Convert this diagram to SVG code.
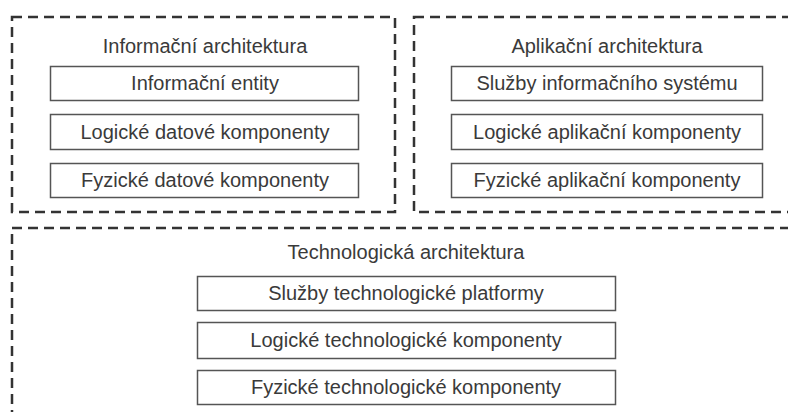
<svg xmlns="http://www.w3.org/2000/svg" width="788" height="412" viewBox="0 0 788 412">
<style>
.group{fill:none;stroke:#333;stroke-width:2.5;stroke-dasharray:10 6}
.box{fill:#fff;stroke:#555;stroke-width:1.5}
text{font-family:"Liberation Sans",Arial,sans-serif;font-size:20px;fill:#3a3a3a;text-anchor:middle}
</style>
<rect width="788" height="412" fill="#fff"/>
<g id="info">
<rect class="group" x="12" y="17" width="383" height="195"/>
<text x="205" y="53">Informační architektura</text>
<g id="info-1"><rect class="box" x="50.5" y="66.5" width="308" height="34"/><text x="205" y="90">Informační entity</text></g>
<g id="info-2"><rect class="box" x="50.5" y="114.5" width="308" height="35"/><text x="205" y="139">Logické datové komponenty</text></g>
<g id="info-3"><rect class="box" x="50.5" y="163.5" width="308" height="34"/><text x="205" y="187">Fyzické datové komponenty</text></g>
</g>
<g id="app">
<rect class="group" x="414" y="17" width="390" height="195"/>
<text x="607" y="53">Aplikační architektura</text>
<g id="app-1"><rect class="box" x="451.5" y="66.5" width="311" height="34"/><text x="607" y="90">Služby informačního systému</text></g>
<g id="app-2"><rect class="box" x="451.5" y="114.5" width="311" height="35"/><text x="607" y="139">Logické aplikační komponenty</text></g>
<g id="app-3"><rect class="box" x="451.5" y="163.5" width="311" height="34"/><text x="607" y="187">Fyzické aplikační komponenty</text></g>
</g>
<g id="tech">
<rect class="group" x="12" y="228" width="800" height="200"/>
<text x="406" y="259">Technologická architektura</text>
<g id="tech-1"><rect class="box" x="197.5" y="276.5" width="418" height="34"/><text x="406" y="300">Služby technologické platformy</text></g>
<g id="tech-2"><rect class="box" x="197.5" y="322.5" width="418" height="36"/><text x="406" y="347">Logické technologické komponenty</text></g>
<g id="tech-3"><rect class="box" x="197.5" y="370.5" width="418" height="34"/><text x="406" y="394">Fyzické technologické komponenty</text></g>
</g>
<g id="connectors"/>
</svg>
